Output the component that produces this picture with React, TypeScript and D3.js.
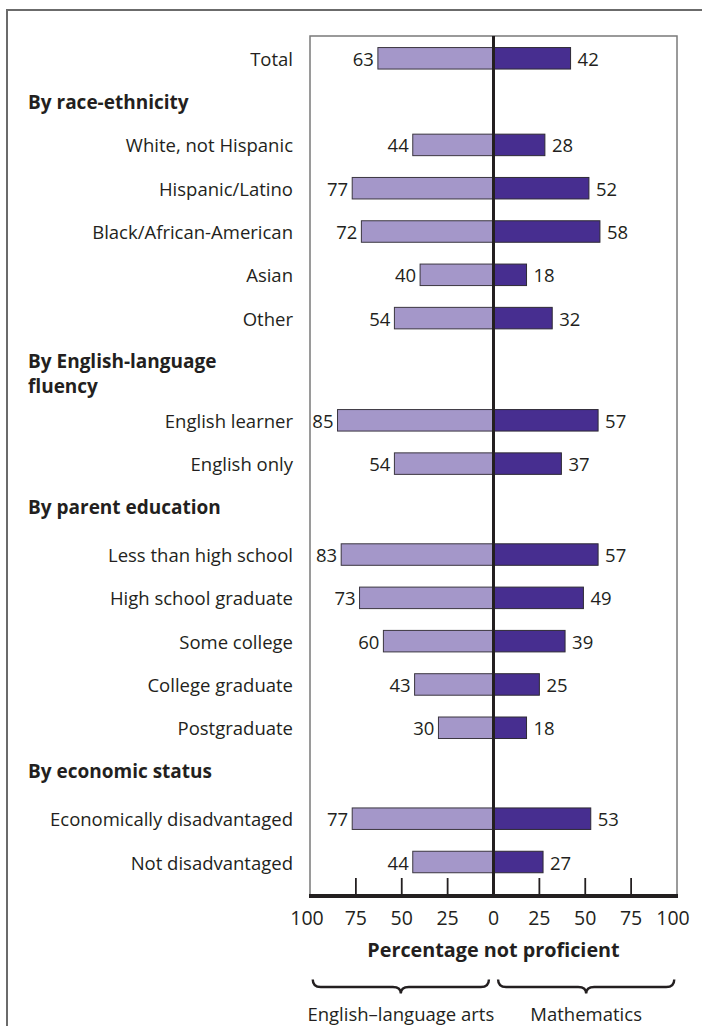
import React from "react";
import * as d3 from "d3";

const categories = [
  "Total",
  "White, not Hispanic",
  "Hispanic/Latino",
  "Black/African-American",
  "Asian",
  "Other",
  "English learner",
  "English only",
  "Less than high school",
  "High school graduate",
  "Some college",
  "College graduate",
  "Postgraduate",
  "Economically disadvantaged",
  "Not disadvantaged",
];
const elaValues = [63, 44, 77, 72, 40, 54, 85, 54, 83, 73, 60, 43, 30, 77, 44];
const mathValues = [42, 28, 52, 58, 18, 32, 57, 37, 57, 49, 39, 25, 18, 53, 27];

const groupHeaders = [
  ["By race-ethnicity"],
  ["By English-language", "fluency"],
  ["By parent education"],
  ["By economic status"],
];
// index of the first category in each group
const groupStarts = [1, 6, 8, 13];

const tickValues = [0, 25, 50, 75, 100];
const axisTitle = "Percentage not proficient";
const seriesNames = ["English\u2013language arts", "Mathematics"];

const W = 702;
const H = 1026;
const FONT = "'Open Sans', 'Noto Sans', sans-serif";
const TEXT = "#231f20";
const LIGHT = "#a497c9";
const DARK = "#472e90";

// layout in row units
function buildLayout() {
  const rows: number[] = [];
  const headers: { lines: string[]; pos: number }[] = [];
  let u = 0;
  categories.forEach((c, i) => {
    const g = groupStarts.indexOf(i);
    if (g >= 0) {
      const lines = groupHeaders[g];
      headers.push({ lines, pos: u });
      u += 1 + (g > 0 ? 0.1 : 0) + 0.26 * (lines.length - 1);
    }
    rows.push(u);
    u += 1;
  });
  return { rows, headers };
}

export default function App() {
  const { rows, headers } = buildLayout();
  const plotLeft = 310;
  const plotRight = 677;
  const plotTop = 36;
  const axisY = 896;
  const cx = (plotLeft + plotRight) / 2;
  const half = (plotRight - plotLeft) / 2;

  const xL = d3.scaleLinear().domain([0, 100]).range([cx, cx - half]);
  const xR = d3.scaleLinear().domain([0, 100]).range([cx, cx + half]);
  const y = d3
    .scaleLinear()
    .domain([0, rows[rows.length - 1]])
    .range([58.3, 862]);
  const rowH = 21.5;
  const labelRight = 293;
  const headerLeft = 28;
  const LABEL_FS = 18.5;

  const brace = (x0: number, x1: number, y0: number) => {
    const y1 = y0 + 7.5;
    const y2 = y0 + 14;
    const mid = (x0 + x1) / 2;
    const r = 8;
    const p = d3.path();
    p.moveTo(x0, y0);
    p.quadraticCurveTo(x0, y1, x0 + r, y1);
    p.lineTo(mid - r, y1);
    p.quadraticCurveTo(mid, y1, mid, y2);
    p.quadraticCurveTo(mid, y1, mid + r, y1);
    p.lineTo(x1 - r, y1);
    p.quadraticCurveTo(x1, y1, x1, y0);
    return p.toString();
  };

  return (
    <svg
      width={W}
      height={H}
      style={{ position: "absolute", left: 0, top: 0, background: "#fff" }}
      fontFamily={FONT}
    >
      <rect width={W} height={H} fill="#fff" />
      {/* outer frame */}
      <path d={`M7,${H} V10 H${W}`} fill="none" stroke="#6b6b6b" strokeWidth={2} />

      {/* plot box */}
      <rect
        x={plotLeft}
        y={plotTop}
        width={plotRight - plotLeft}
        height={axisY - plotTop}
        fill="none"
        stroke="#7a7a7a"
        strokeWidth={1.5}
      />

      {/* headers */}
      {headers.map((h, i) =>
        h.lines.map((l, j) => (
          <text
            key={"h" + i + "_" + j}
            x={headerLeft}
            y={y(h.pos) + j * 24.5}
            fontSize={19}
            fontWeight={700}
            fill={TEXT}
            dominantBaseline="central"
          >
            {l}
          </text>
        ))
      )}

      {/* rows */}
      {categories.map((c, i) => {
        const yc = y(rows[i]);
        const e = elaValues[i];
        const m = mathValues[i];
        return (
          <g key={c}>
            <text
              x={labelRight}
              y={yc}
              textAnchor="end"
              dominantBaseline="central"
              fontSize={LABEL_FS}
              fill={TEXT}
            >
              {c}
            </text>
            <rect
              x={xL(e)}
              y={yc - rowH / 2}
              width={cx - xL(e)}
              height={rowH}
              fill={LIGHT}
              stroke="#3b3640"
              strokeWidth={1}
            />
            <rect
              x={cx}
              y={yc - rowH / 2}
              width={xR(m) - cx}
              height={rowH}
              fill={DARK}
              stroke="#2e2a35"
              strokeWidth={1}
            />
            <text
              x={xL(e) - 4}
              y={yc}
              textAnchor="end"
              dominantBaseline="central"
              fontSize={LABEL_FS}
              fill={TEXT}
            >
              {e}
            </text>
            <text
              x={xR(m) + 7}
              y={yc}
              textAnchor="start"
              dominantBaseline="central"
              fontSize={LABEL_FS}
              fill={TEXT}
            >
              {m}
            </text>
          </g>
        );
      })}

      {/* center line */}
      <line x1={cx} x2={cx} y1={plotTop} y2={axisY} stroke={TEXT} strokeWidth={3} />

      {/* ticks */}
      {tickValues
        .filter((t) => t > 0 && t < 100)
        .map((t) => (
          <g key={"t" + t}>
            <line x1={xL(t)} x2={xL(t)} y1={axisY - 18} y2={axisY} stroke={TEXT} strokeWidth={1.8} />
            <line x1={xR(t)} x2={xR(t)} y1={axisY - 18} y2={axisY} stroke={TEXT} strokeWidth={1.8} />
          </g>
        ))}
      {/* axis line */}
      <line x1={plotLeft - 1} x2={plotRight + 1} y1={axisY} y2={axisY} stroke={TEXT} strokeWidth={4} />

      {/* tick labels */}
      {tickValues.map((t) => (
        <text
          key={"ll" + t}
          x={t === 100 ? xL(t) - 3 : xL(t)}
          y={917}
          textAnchor="middle"
          dominantBaseline="central"
          fontSize={19.5}
          fill={TEXT}
        >
          {t}
        </text>
      ))}
      {tickValues
        .filter((t) => t > 0)
        .map((t) => (
          <text
            key={"rl" + t}
            x={t === 100 ? xR(t) - 4 : xR(t)}
            y={917}
            textAnchor="middle"
            dominantBaseline="central"
            fontSize={19.5}
            fill={TEXT}
          >
            {t}
          </text>
        ))}

      <text
        x={cx}
        y={949}
        textAnchor="middle"
        dominantBaseline="central"
        fontSize={19.8}
        fontWeight={700}
        fill={TEXT}
      >
        {axisTitle}
      </text>

      {/* braces */}
      <path d={brace(xL(98.5), xL(2.5), 979.5)} fill="none" stroke={TEXT} strokeWidth={2.4} />
      <path d={brace(xR(2.5), xR(98.5), 979.5)} fill="none" stroke={TEXT} strokeWidth={2.4} />
      <text
        x={(xL(98.5) + xL(2.5)) / 2}
        y={1013}
        textAnchor="middle"
        dominantBaseline="central"
        fontSize={18.5}
        fill={TEXT}
      >
        {seriesNames[0]}
      </text>
      <text
        x={(xR(2.5) + xR(98.5)) / 2}
        y={1013}
        textAnchor="middle"
        dominantBaseline="central"
        fontSize={18.5}
        fill={TEXT}
      >
        {seriesNames[1]}
      </text>
    </svg>
  );
}
